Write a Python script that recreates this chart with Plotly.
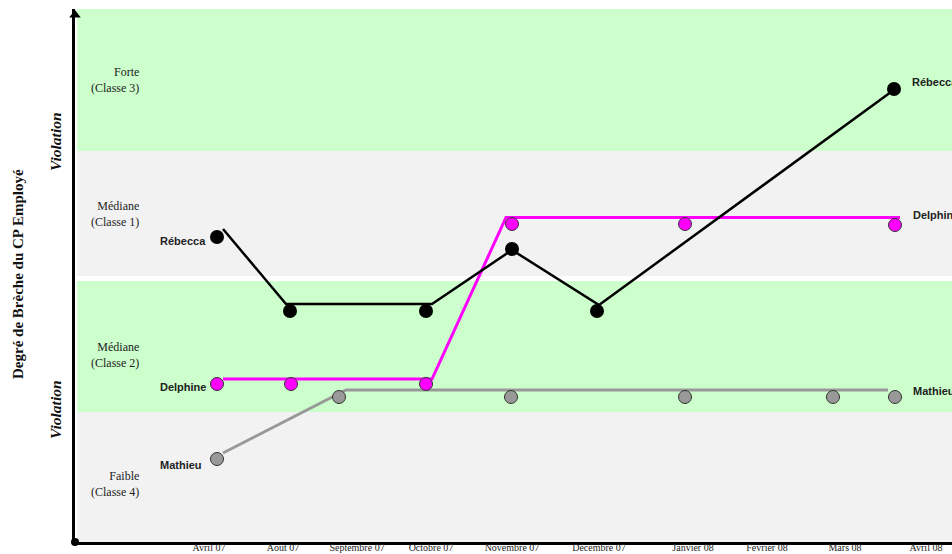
import plotly.graph_objects as go

# ---- data ----
month_labels = ["Avril 07", "Août 07", "Septembre 07", "Octobre 07", "Novembre 07",
                "Décembre 07", "Janvier 08", "Février 08", "Mars 08", "Avril 08"]
month_pos = [134, 208, 282, 356, 437, 524, 618, 692, 770, 851]

# class bands
band_low = [0, 130, 266, 391]
band_high = [130, 261, 391, 533]
band_label = ["Faible<br>(Classe 4)", "Médiane<br>(Classe 2)", "Médiane<br>(Classe 1)", "Forte<br>(Classe 3)"]
band_label_y = [58, 187, 328, 462]

rebecca_x = [142, 215, 351, 437, 522, 819]
rebecca_y = [305, 231, 231, 293, 231, 453]
rebecca_line_x = [148, 211, 357, 437, 524, 816]
rebecca_line_y = [313, 238, 238, 292, 237, 450]

delphine_x = [142, 216, 351, 437, 610, 820]
delphine_y = [158, 158, 158, 318, 318, 317]
delphine_line_x = [148, 357, 431, 825]
delphine_line_y = [163, 163, 324.5, 324.5]

mathieu_x = [142, 264, 436, 610, 758, 820]
mathieu_y = [83, 145, 145, 145, 145, 145]
mathieu_line_x = [148, 271, 813]
mathieu_line_y = [89, 152, 152]

GREEN = "#CCFFCC"
GRAY = "#F2F2F2"
band_colors = [GRAY, GREEN, GRAY, GREEN]

SERIF = "Liberation Serif, Times New Roman, serif"
SANS = "Liberation Sans, Arial, sans-serif"

fig = go.Figure()

# lines
fig.add_trace(go.Scatter(x=mathieu_line_x, y=mathieu_line_y, mode="lines",
                         line=dict(color="#999999", width=3), hoverinfo="skip"))
fig.add_trace(go.Scatter(x=delphine_line_x, y=delphine_line_y, mode="lines",
                         line=dict(color="#FF00FF", width=3), hoverinfo="skip"))
fig.add_trace(go.Scatter(x=rebecca_line_x, y=rebecca_line_y, mode="lines",
                         line=dict(color="#000000", width=2.5), hoverinfo="skip"))
# markers
fig.add_trace(go.Scatter(x=mathieu_x, y=mathieu_y, mode="markers", name="Mathieu",
                         marker=dict(size=13, color="#999999", line=dict(color="#333333", width=1))))
fig.add_trace(go.Scatter(x=delphine_x, y=delphine_y, mode="markers", name="Delphine",
                         marker=dict(size=13, color="#FF00FF", line=dict(color="#333333", width=1))))
fig.add_trace(go.Scatter(x=rebecca_x, y=rebecca_y, mode="markers", name="Rébecca",
                         marker=dict(size=14, color="#000000", line=dict(width=0))))

# axis decorations: arrow head and origin dot
fig.add_trace(go.Scatter(x=[0], y=[527], mode="markers", cliponaxis=False,
                         marker=dict(symbol="triangle-up", size=10, color="black"), hoverinfo="skip"))
fig.add_trace(go.Scatter(x=[0], y=[0], mode="markers", cliponaxis=False,
                         marker=dict(size=8, color="black"), hoverinfo="skip"))

shapes = []
for lo, hi, col in zip(band_low, band_high, band_colors):
    shapes.append(dict(type="rect", xref="x", yref="y", x0=2, x1=900, y0=lo, y1=hi,
                       fillcolor=col, line=dict(width=0), layer="below"))

ann = []
for txt, yy in zip(band_label, band_label_y):
    ann.append(dict(x=66, y=yy, xref="x", yref="y", text=txt, showarrow=False,
                    xanchor="right", yanchor="middle", align="right",
                    font=dict(family=SERIF, size=12, color="#222222")))

def series_labels(name, xs, ys, left_dy, right_dy):
    ann.append(dict(x=xs[0], y=ys[0], xref="x", yref="y", text="<b>%s</b>" % name,
                    showarrow=False, xanchor="left", yanchor="middle", xshift=-59.5, yshift=left_dy,
                    font=dict(family=SANS, size=11, color="#222222")))
    ann.append(dict(x=xs[-1], y=ys[-1], xref="x", yref="y", text="<b>%s</b>" % name,
                    showarrow=False, xanchor="left", yanchor="middle", xshift=15.5, yshift=right_dy,
                    font=dict(family=SANS, size=11, color="#222222")))

series_labels("Rébecca", rebecca_x, rebecca_y, -4, 7)
series_labels("Delphine", delphine_x, delphine_y, -3, 10)
series_labels("Mathieu", mathieu_x, mathieu_y, -6, 6)

# left titles (paper coords: plot area spans 877 px starting at 75 px)
ann.append(dict(x=-57 / 877, y=268 / 533, xref="paper", yref="paper",
                text="<b>Degré de Brèche du CP Employé</b>",
                showarrow=False, textangle=-90, xanchor="center", yanchor="middle",
                font=dict(family=SERIF, size=15, color="#111111")))
for yy in [400, 132]:
    ann.append(dict(x=-20 / 877, y=yy / 533, xref="paper", yref="paper",
                    text="<b><i>Violation</i></b>",
                    showarrow=False, textangle=-90, xanchor="center", yanchor="middle",
                    font=dict(family=SERIF, size=15.5, color="#111111")))

fig.update_layout(
    width=952, height=554,
    margin=dict(l=75, r=0, t=9, b=12, autoexpand=False),
    paper_bgcolor="white", plot_bgcolor="white",
    showlegend=False,
    shapes=shapes, annotations=ann,
    xaxis=dict(range=[0, 877], showgrid=False, zeroline=False, showline=True,
               linecolor="black", linewidth=3, tickmode="array",
               tickvals=month_pos, ticktext=month_labels, ticks="", ticklen=0,
               ticklabelstandoff=-6,
               tickfont=dict(family=SERIF, size=10, color="#222222"), automargin=False),
    yaxis=dict(range=[0, 533], showgrid=False, zeroline=False, showline=True,
               linecolor="black", linewidth=3, showticklabels=False, ticks="",
               automargin=False),
)

fig.write_html("out.html", config={"displayModeBar": False},
               post_script="document.body.style.margin='0';document.body.style.overflow='hidden';")
